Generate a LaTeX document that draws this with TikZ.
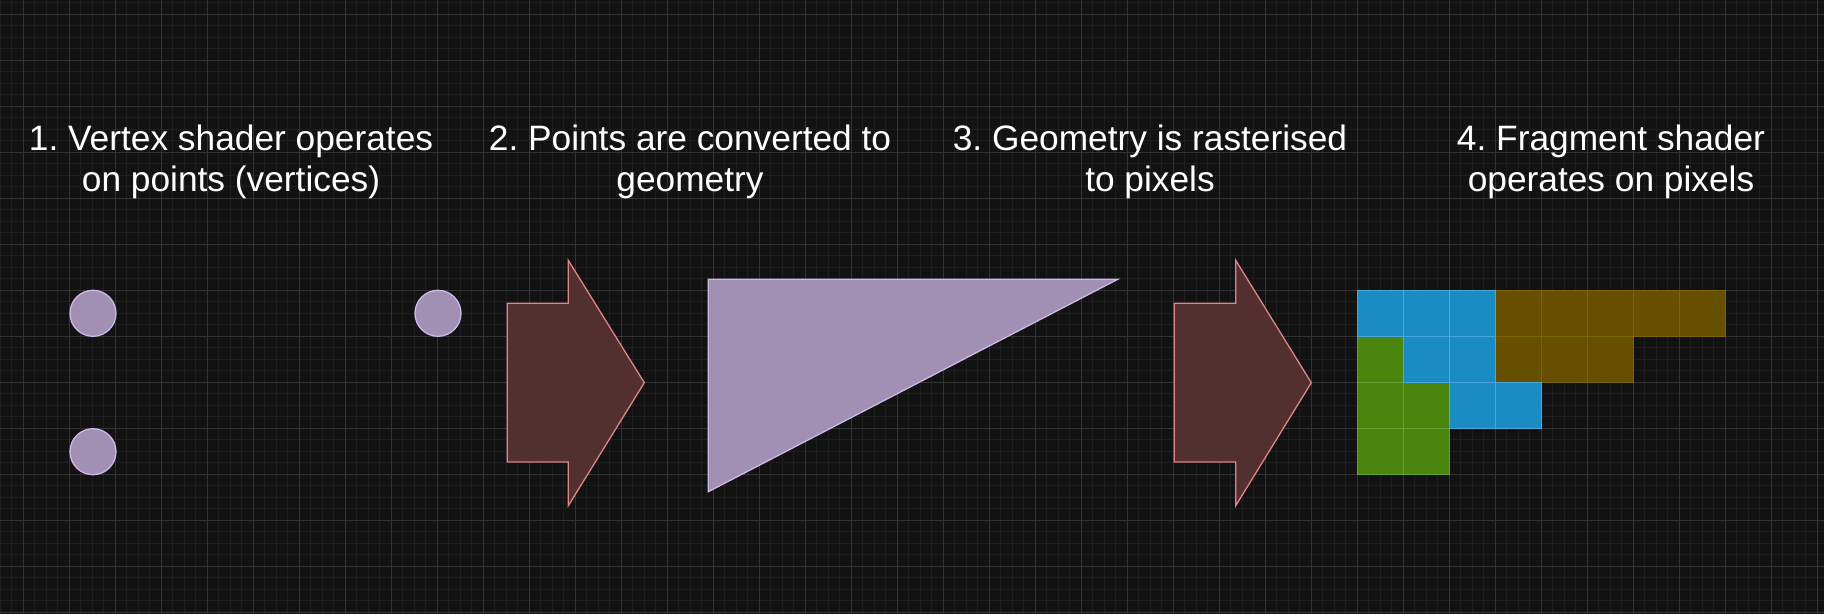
\documentclass[tikz,border=0pt]{standalone}
\usepackage{fontspec}
\setmainfont{Liberation Sans}
\definecolor{bgc}{HTML}{121212}
\definecolor{minorc}{HTML}{1E1E1E}
\definecolor{majorc}{HTML}{333333}
\definecolor{ptfill}{HTML}{A190B4}
\definecolor{ptdraw}{HTML}{CDB9E6}
\definecolor{arfill}{HTML}{523030}
\definecolor{ardraw}{HTML}{E08585}
\definecolor{bluef}{HTML}{1A8CC4}
\definecolor{blued}{HTML}{4AA8E0}
\definecolor{olivef}{HTML}{665000}
\definecolor{olived}{HTML}{7D6400}
\definecolor{greenf}{HTML}{4A850E}
\definecolor{greend}{HTML}{66A038}
\tikzset{
  minorline/.style={draw=minorc, line width=1pt},
  majorline/.style={draw=majorc, line width=1pt},
  label/.style={text=white, align=center, anchor=base, inner sep=0pt,
    font=\fontsize{35.3}{41}\selectfont\frenchspacing},
  pointdot/.style={circle, fill=ptfill, draw=ptdraw, line width=1.3pt,
    minimum size=46pt, inner sep=0pt},
  shapefill/.style={fill=ptfill, draw=ptdraw, line width=1.3pt, line join=miter},
  bigarrow/.style={fill=arfill, draw=ardraw, line width=1.3pt, line join=miter},
  bluepx/.style={fill=bluef, draw=blued, line width=1.3pt},
  olivepx/.style={fill=olivef, draw=olived, line width=1.3pt},
  greenpx/.style={fill=greenf, draw=greend, line width=1.3pt},
}
\begin{document}
\begin{tikzpicture}[x=1pt,y=-1pt]
\useasboundingbox (0,0) rectangle (1824,614);
\fill[bgc] (0,0) rectangle (1824,614);
\begin{scope}
\clip (0,0) rectangle (1824,614);
% minor grid
\foreach \i in {0,...,158} { \draw[minorline] ({\i*11.5},0) -- ({\i*11.5},614); }
\foreach \j in {0,...,53} { \draw[minorline] (0,{2.5+\j*11.5}) -- (1824,{2.5+\j*11.5}); }
% major grid
\foreach \i in {0,...,39} { \draw[majorline] ({23+\i*46},0) -- ({23+\i*46},614); }
\foreach \j in {0,...,13} { \draw[majorline] (0,{14+\j*46}) -- (1824,{14+\j*46}); }
\end{scope}

% labels (base anchor = baseline of the last line)
\node[label] (t1) at (231,191.7) {1. Vertex shader operates\\on points (vertices)};
\node[label] (t2) at (690,191.7) {2. Points are converted to\\geometry};
\node[label] (t3) at (1150,191.7) {3. Geometry is rasterised\\to pixels};
\node[label] (t4) at (1611,191.7) {4. Fragment shader\\operates on pixels};

% points
\node[pointdot] (p1) at (93,313.3) {};
\node[pointdot] (p2) at (93,451.7) {};
\node[pointdot] (p3) at (438,313.3) {};

% arrow 1
\draw[bigarrow] (507.3,303.3) -- (568.3,303.3) -- (568.3,260.3) -- (644.3,382.7)
  -- (568.3,505.7) -- (568.3,462) -- (507.3,462) -- cycle;

% triangle
\draw[shapefill] (708.3,279.3) -- (1117.7,279.3) -- (708.3,491.7) -- cycle;

% arrow 2
\draw[bigarrow] (1174.3,303.3) -- (1235.7,303.3) -- (1235.7,260.3) -- (1311.3,382.7)
  -- (1235.7,505.7) -- (1235.7,462) -- (1174.3,462) -- cycle;

% pixels
\foreach \c/\r in {3/0,4/0,5/0,6/0,7/0,3/1,4/1,5/1}
  { \draw[olivepx] ({1357.3+\c*46},{290.3+\r*46}) rectangle +(46,46); }
\foreach \c/\r in {0/1,0/2,1/2,0/3,1/3}
  { \draw[greenpx] ({1357.3+\c*46},{290.3+\r*46}) rectangle +(46,46); }
\foreach \c/\r in {0/0,1/0,2/0,1/1,2/1,2/2,3/2}
  { \draw[bluepx] ({1357.3+\c*46},{290.3+\r*46}) rectangle +(46,46); }
\end{tikzpicture}
\end{document}
